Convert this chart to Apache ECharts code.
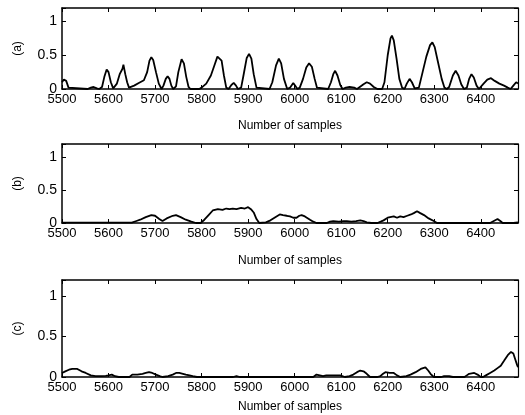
<!DOCTYPE html>
<html>
<head>
<meta charset="utf-8">
<script src="https://cdn.jsdelivr.net/npm/echarts@6/dist/echarts.min.js"></script>
<style>
html,body{margin:0;padding:0;background:#fff;}
#chart{width:525px;height:415px;}
</style>
</head>
<body>
<div id="chart"></div>
<script>
// Panel (a)
var samplesA = [5500,5504,5509,5514,5518,5555,5562,5568,5575,5580,5586,5591,5596,5600,5605,5610,5613,5618,5624,5630,5632,5636,5640,5644,5648,5655,5665,5676,5683,5688,5692,5696,5702,5708,5714,5718,5723,5727,5731,5735,5739,5745,5750,5757,5762,5767,5772,5776,5795,5800,5810,5820,5828,5834,5838,5843,5848,5853,5858,5864,5869,5874,5878,5885,5890,5897,5902,5907,5912,5918,5922,5946,5952,5960,5966,5971,5977,5984,5990,5997,6002,6006,6011,6018,6025,6031,6037,6043,6048,6052,6072,6078,6083,6087,6092,6098,6103,6110,6118,6128,6134,6140,6148,6155,6162,6170,6178,6188,6193,6200,6206,6209,6213,6219,6225,6231,6236,6241,6247,6252,6258,6262,6267,6275,6283,6291,6296,6301,6308,6316,6322,6327,6332,6340,6346,6352,6358,6364,6370,6375,6380,6385,6391,6396,6400,6406,6414,6422,6430,6440,6450,6458,6464,6470,6476,6480];
var valuesA = [0.10,0.14,0.12,0.02,0,0,0.02,0.03,0.01,0,0.03,0.18,0.29,0.25,0.10,0.01,0,0.08,0.22,0.30,0.36,0.22,0.10,0.02,0,0.05,0.09,0.13,0.25,0.42,0.47,0.43,0.25,0.08,0,0.05,0.15,0.19,0.15,0.05,0,0.04,0.25,0.44,0.38,0.18,0.03,0,0,0.02,0.08,0.20,0.36,0.48,0.50,0.42,0.20,0.02,0,0.06,0.09,0.05,0,0.02,0.20,0.46,0.52,0.45,0.22,0.02,0,0,0.10,0.35,0.45,0.38,0.15,0,0.02,0.09,0.04,0,0.02,0.15,0.32,0.38,0.33,0.15,0.02,0,0,0.10,0.22,0.27,0.20,0.06,0,0.02,0.03,0.02,0,0.03,0.07,0.10,0.08,0.03,0,0,0.10,0.50,0.75,0.79,0.72,0.45,0.15,0.02,0,0.08,0.15,0.10,0.01,0,0.02,0.25,0.48,0.65,0.69,0.62,0.40,0.15,0.02,0,0.03,0.20,0.27,0.20,0.07,0,0.02,0.15,0.22,0.17,0.05,0,0.01,0.08,0.14,0.16,0.12,0.08,0.05,0.02,0,0.05,0.10,0.08];

// Panel (b)
var samplesB = [5500,5650,5660,5668,5680,5692,5700,5709,5716,5725,5738,5745,5755,5766,5778,5788,5798,5806,5815,5824,5835,5845,5853,5860,5867,5875,5885,5893,5900,5906,5912,5918,5924,5938,5948,5961,5968,5975,5983,5990,5997,6004,6010,6015,6022,6033,6040,6047,6069,6076,6083,6095,6105,6112,6122,6132,6141,6148,6155,6165,6178,6185,6191,6200,6213,6220,6227,6234,6242,6250,6256,6263,6270,6278,6288,6299,6306,6420,6428,6436,6442,6447,6470,6480];
var valuesB = [0.005,0.005,0.03,0.05,0.09,0.12,0.11,0.06,0.03,0.07,0.11,0.12,0.09,0.05,0.02,0,0,0.05,0.12,0.19,0.21,0.20,0.22,0.21,0.22,0.21,0.23,0.22,0.24,0.21,0.16,0.06,0,0.01,0.04,0.10,0.13,0.12,0.11,0.10,0.08,0.08,0.11,0.12,0.10,0.05,0.02,0,0,0.02,0.03,0.02,0.03,0.03,0.02,0.03,0.04,0.03,0.01,0,0,0.02,0.04,0.08,0.10,0.08,0.10,0.09,0.11,0.13,0.15,0.18,0.15,0.12,0.07,0.03,0,0,0.03,0.06,0.03,0,0,0.01];

// Panel (c)
var samplesC = [5500,5507,5515,5522,5533,5542,5551,5562,5572,5585,5594,5600,5607,5614,5622,5645,5651,5662,5673,5680,5687,5694,5702,5710,5716,5728,5738,5745,5752,5760,5766,5774,5781,5790,5868,5875,5882,6040,6047,6054,6061,6068,6076,6088,6098,6108,6118,6126,6134,6141,6148,6155,6162,6178,6184,6190,6195,6204,6213,6220,6227,6240,6249,6260,6271,6281,6287,6292,6299,6315,6321,6332,6340,6365,6370,6375,6386,6393,6400,6405,6411,6420,6429,6436,6443,6450,6458,6465,6470,6474,6478,6480];
var valuesC = [0.05,0.07,0.09,0.10,0.10,0.07,0.05,0.02,0.01,0.01,0.015,0.02,0.03,0.01,0,0,0.03,0.03,0.04,0.05,0.06,0.05,0.03,0.01,0,0.01,0.03,0.05,0.05,0.04,0.03,0.02,0.01,0,0,0.01,0,0,0.03,0.02,0.01,0.02,0.02,0.02,0.02,0,0.01,0.03,0.06,0.08,0.07,0.04,0,0,0.01,0.04,0.06,0.05,0.05,0.02,0,0.01,0.03,0.06,0.10,0.12,0.08,0.04,0,0,0.01,0.01,0,0,0.02,0.04,0.05,0.03,0,0,0.02,0.05,0.08,0.11,0.14,0.20,0.27,0.31,0.29,0.22,0.15,0.12];

var panelNames = ['(a)', '(b)', '(c)'];
var xTicksMin = 5500, xTicksMax = 6480, xTickStep = 100;
var yMin = 0, yMax = 1.2, yStep = 0.5;
var xAxisTitle = 'Number of samples';

function pairs(xs, ys) { return xs.map(function (x, i) { return [x, ys[i]]; }); }
var seriesData = [pairs(samplesA, valuesA), pairs(samplesB, valuesB), pairs(samplesC, valuesC)];

var grids = [
  {left: 62, right: 7, top: 8, height: 81},
  {left: 62, right: 7, top: 144, height: 79},
  {left: 62, right: 7, top: 280, height: 97}
];
var titleGaps = [31, 32, 24];

var lineCol = '#000';
var xAxes = [], yAxes = [], series = [];
grids.forEach(function (g, i) {
  xAxes.push({
    type: 'value', gridIndex: i, position: 'bottom',
    min: xTicksMin, max: xTicksMax, interval: xTickStep,
    axisLine: {show: true, onZero: false, lineStyle: {color: lineCol, width: 1.5}},
    axisTick: {show: true, inside: true, length: 4, lineStyle: {color: lineCol}},
    axisLabel: {color: '#000', fontSize: 13, fontFamily: 'Liberation Sans Narrow, Liberation Sans, Arial', margin: 4,
      formatter: function (v) { return v % 100 === 0 ? String(v) : ''; }},
    splitLine: {show: false},
    name: xAxisTitle, nameLocation: 'middle', nameGap: titleGaps[i],
    nameTextStyle: {color: '#000', fontSize: 12, fontFamily: 'Liberation Sans, Arial'}
  });
  xAxes.push({
    type: 'value', gridIndex: i, position: 'top',
    min: xTicksMin, max: xTicksMax, interval: xTickStep,
    axisLine: {show: true, onZero: false, lineStyle: {color: lineCol, width: 1.5}},
    axisTick: {show: true, inside: true, length: 4, lineStyle: {color: lineCol}},
    axisLabel: {show: false}, splitLine: {show: false}
  });
  yAxes.push({
    type: 'value', gridIndex: i, position: 'left',
    min: yMin, max: yMax, interval: yStep,
    axisLine: {show: true, onZero: false, lineStyle: {color: lineCol, width: 1.5}},
    axisTick: {show: true, inside: true, length: 4, lineStyle: {color: lineCol}},
    axisLabel: {color: '#000', fontSize: 14, fontFamily: 'Liberation Sans, Arial', margin: 5,
      formatter: function (v) { return v > 1.1 ? '' : String(v); }},
    splitLine: {show: false},
    name: panelNames[i], nameLocation: 'middle', nameGap: 38, nameRotate: 90,
    nameTextStyle: {color: '#000', fontSize: 12, fontFamily: 'Liberation Sans, Arial'}
  });
  yAxes.push({
    type: 'value', gridIndex: i, position: 'right',
    min: yMin, max: yMax, interval: yStep,
    axisLine: {show: true, onZero: false, lineStyle: {color: lineCol, width: 1.2}},
    axisTick: {show: true, inside: true, length: 4, lineStyle: {color: lineCol}},
    axisLabel: {show: false}, splitLine: {show: false}
  });
  series.push({
    type: 'line', xAxisIndex: i * 2, yAxisIndex: i * 2,
    data: seriesData[i], showSymbol: false, smooth: false,
    lineStyle: {color: '#000', width: 1.8}, animation: false
  });
});

var chart = echarts.init(document.getElementById('chart'), null, {renderer: 'canvas'});
chart.setOption({
  animation: false,
  backgroundColor: '#fff',
  grid: grids,
  xAxis: xAxes,
  yAxis: yAxes,
  series: series
});
</script>
</body>
</html>
